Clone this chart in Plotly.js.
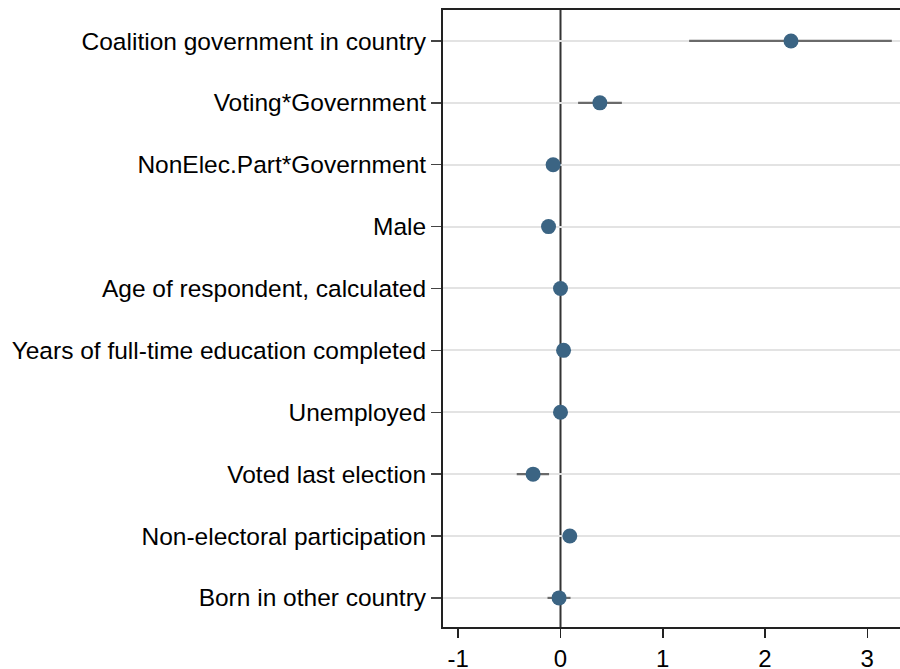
<!DOCTYPE html>
<html>
<head>
<meta charset="utf-8">
<script src="https://cdn.plot.ly/plotly-3.0.1.min.js"></script>
<style>html,body{margin:0;padding:0;background:#fff;}#chart{width:900px;height:669px;}</style>
</head>
<body>
<div id="chart"></div>
<script>
const labels = [
  "Coalition government in country",
  "Voting*Government",
  "NonElec.Part*Government",
  "Male",
  "Age of respondent, calculated",
  "Years of full-time education completed",
  "Unemployed",
  "Voted last election",
  "Non-electoral participation",
  "Born in other country"
];
const coef = [2.254, 0.385, -0.072, -0.117, 0.0, 0.03, 0.0, -0.268, 0.091, -0.014];
const ciLow = [1.258, 0.172, -0.12, -0.16, -0.02, 0.0, -0.03, -0.428, 0.05, -0.127];
const ciHigh = [3.24, 0.60, -0.025, -0.075, 0.02, 0.06, 0.03, -0.112, 0.13, 0.098];
const xTicks = [-1, 0, 1, 2, 3];

const rows = labels.map((_, i) => i);
const errPlus = coef.map((c, i) => ciHigh[i] - c);
const errMinus = coef.map((c, i) => c - ciLow[i]);

const traces = [{
  type: 'scatter',
  mode: 'markers',
  x: coef,
  y: rows,
  marker: {color: '#3b6483', size: 15},
  error_x: {type: 'data', symmetric: false, array: errPlus, arrayminus: errMinus,
            color: '#6a6a6a', thickness: 2.2, width: 0},
  hoverinfo: 'x+y',
  showlegend: false
}];

const layout = {
  width: 900, height: 669,
  margin: {l: 442.5, r: 0, t: 10, b: 42},
  paper_bgcolor: '#fff', plot_bgcolor: '#fff',
  font: {family: 'Liberation Sans, Arial, sans-serif', size: 24, color: '#000'},
  xaxis: {
    range: [-1.149, 3.32],
    tickvals: xTicks,
    ticktext: xTicks.map(String),
    ticks: 'outside', ticklen: 9, tickwidth: 1.5, tickcolor: '#222',
    showgrid: false, zeroline: false,
    showline: true, linecolor: '#222', linewidth: 2, mirror: true,
    tickfont: {size: 24}
  },
  yaxis: {
    range: [9.47, -0.5],
    tickvals: rows,
    ticktext: labels,
    ticks: 'outside', ticklen: 10, tickwidth: 1.5, tickcolor: '#444',
    showgrid: true, gridcolor: '#e3e3e3', gridwidth: 2,
    zeroline: false,
    showline: true, linecolor: '#222', linewidth: 2, mirror: false,
    tickfont: {size: 24.5}
  },
  shapes: [{
    type: 'line', xref: 'x', yref: 'paper', x0: 0, x1: 0, y0: 0, y1: 1,
    line: {color: '#333', width: 2}, layer: 'below'
  }]
};

Plotly.newPlot('chart', traces, layout, {displayModeBar: false, staticPlot: true});
</script>
</body>
</html>
